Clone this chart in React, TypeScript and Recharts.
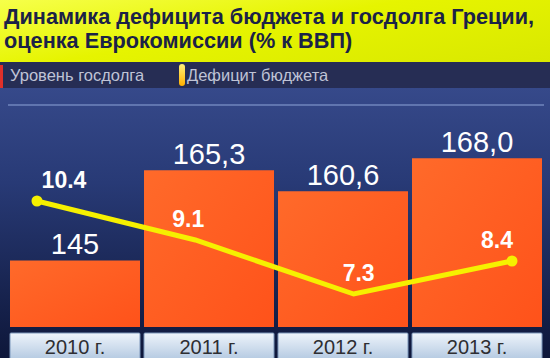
import React from 'react';
import {
  ComposedChart, Bar, Line, XAxis, YAxis, LabelList, ReferenceLine,
} from 'recharts';

const years = ['2010 г.', '2011 г.', '2012 г.', '2013 г.'];
const debt = [145, 165.3, 160.6, 168.0];
const debtLabels = ['145', '165,3', '160,6', '168,0'];
const deficit = [10.4, 9.1, 7.3, 8.4];
const deficitLabels = ['10.4', '9.1', '7.3', '8.4'];

const data = years.map((year, i) => ({
  year,
  idx: i,
  debt: debt[i],
  debtLabel: debtLabels[i],
  deficit: deficit[i],
  deficitLabel: deficitLabels[i],
}));

const FONT = '"Liberation Sans", Arial, sans-serif';

// label nudges so the numbers sit where the original puts them
const defDx = [27, -7, 5, -15];

function YearTick(props: any) {
  const { x, y, payload } = props;
  return (
    <g>
      <rect x={x - 65} y={y + 4} width={130} height={30} fill="url(#tickGrad)" stroke="#7d97bb" strokeWidth={1} rx={1} />
      <text x={x} y={y + 25} textAnchor="middle" fontSize={20} fill="#2e2e32" fontFamily={FONT}>
        {payload.value}
      </text>
    </g>
  );
}

function EndDot(props: any) {
  const { cx, cy, index } = props;
  if (index !== 0 && index !== data.length - 1) return <g key={index} />;
  return <circle key={index} cx={cx} cy={cy} r={5.5} fill="#f6f000" />;
}

function DefLabel(props: any) {
  const { x, y, index, value } = props;
  return (
    <text x={x + defDx[index]} y={y - 13} textAnchor="middle" fontSize={23} fontWeight="bold"
      fill="#ffffff" fontFamily={FONT}>
      {value}
    </text>
  );
}

export default function App() {
  return (
    <div style={{ position: 'absolute', left: 0, top: 0, width: 550, height: 358, overflow: 'hidden', fontFamily: FONT }}>
      <div style={{
        height: 62, background: 'linear-gradient(170deg, #f6ff4a 0%, #e6f400 45%, #d9e800 100%)',
        color: '#1b2247', fontWeight: 'bold', fontSize: 21.7, lineHeight: '24px', padding: '5px 0 0 4px', boxSizing: 'border-box',
      }}>
        Динамика дефицита бюджета и госдолга Греции,<br />оценка Еврокомиссии (% к ВВП)
      </div>
      <div style={{ height: 26, background: '#262d54', position: 'relative', color: '#bfc3d6', fontSize: 16.5 }}>
        <div style={{ position: 'absolute', left: 0, top: 3, width: 3, height: 23, background: '#e0302a' }} />
        <div style={{ position: 'absolute', left: 10, top: 4 }}>Уровень госдолга</div>
        <div style={{ position: 'absolute', left: 179, top: 2, width: 6, height: 22, borderRadius: 3, background: 'linear-gradient(#fff27a, #ffb000)' }} />
        <div style={{ position: 'absolute', left: 187, top: 4 }}>Дефицит бюджета</div>
      </div>
      <div style={{ height: 270, background: 'linear-gradient(180deg, #36498a 0%, #283a76 35%, #182450 75%, #0e173a 100%)' }}>
        <ComposedChart width={550} height={270} data={data} margin={{ top: 17, right: 6, left: 8, bottom: 0 }}>
          <defs>
            <linearGradient id="barGrad" x1="0" y1="0" x2="1" y2="1">
              <stop offset="0%" stopColor="#ff6a2a" />
              <stop offset="100%" stopColor="#ff521a" />
            </linearGradient>
            <linearGradient id="tickGrad" x1="0" y1="0" x2="0" y2="1">
              <stop offset="0%" stopColor="#eef4fb" />
              <stop offset="100%" stopColor="#adc4de" />
            </linearGradient>
          </defs>
          <XAxis xAxisId="cat" dataKey="year" tick={<YearTick />} tickLine={false} axisLine={false} height={31} tickSize={0} interval={0} />
          <XAxis xAxisId="num" dataKey="idx" type="number" domain={[-0.183, 3.202]} hide />
          <YAxis yAxisId="debt" domain={[130, 180]} hide />
          <YAxis yAxisId="def" domain={[6.2, 13.6]} hide />
          <ReferenceLine xAxisId="cat" yAxisId="debt" y={180} stroke="#7186bd" strokeWidth={1.5} />
          <Bar xAxisId="cat" yAxisId="debt" dataKey="debt" fill="url(#barGrad)" barSize={130} isAnimationActive={false}>
            <LabelList dataKey="debtLabel" position="top" offset={6} fill="#ffffff" fontSize={29} fontFamily={FONT} />
          </Bar>
          <Line xAxisId="num" yAxisId="def" dataKey="deficit" type="linear" stroke="#f6f000" strokeWidth={5}
            dot={<EndDot />} activeDot={false} isAnimationActive={false}>
            <LabelList dataKey="deficitLabel" content={<DefLabel />} />
          </Line>
        </ComposedChart>
      </div>
    </div>
  );
}
